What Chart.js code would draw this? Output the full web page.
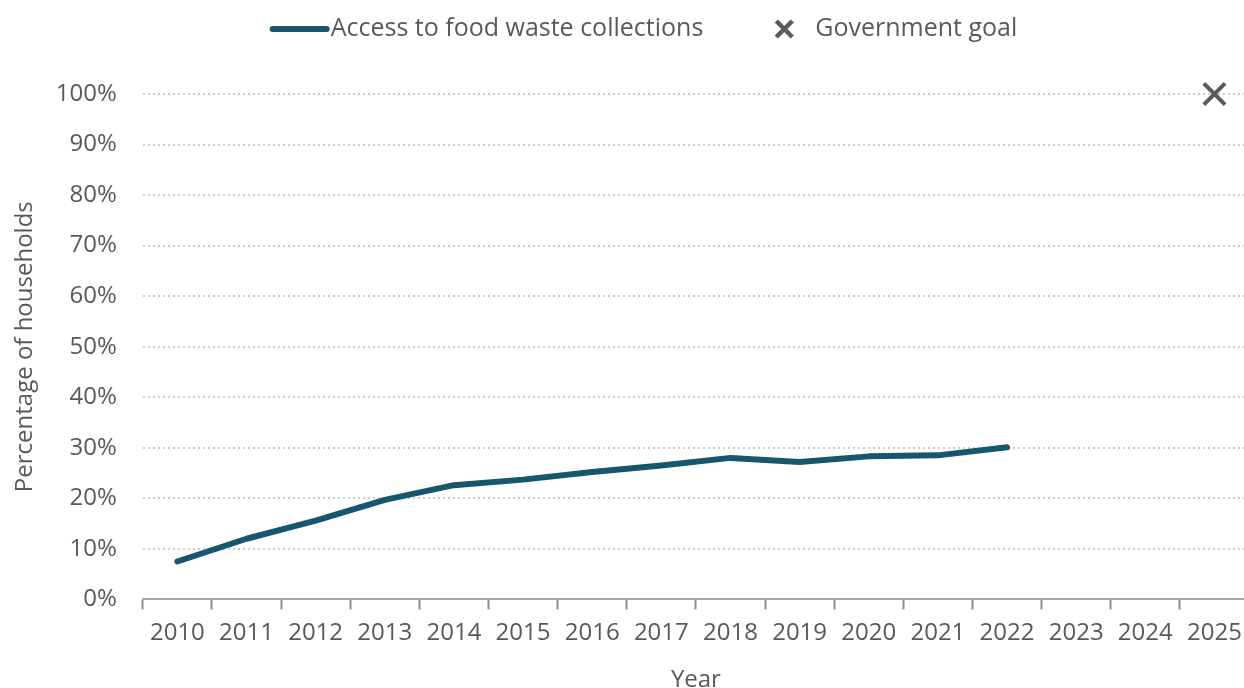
<!DOCTYPE html>
<html>
<head>
<meta charset="utf-8">
<script src="https://cdn.jsdelivr.net/npm/chart.js@4.4.1/dist/chart.umd.min.js"></script>
<style>
  html, body { margin: 0; padding: 0; background: #fff; overflow: hidden; }
  canvas { display: block; }
</style>
</head>
<body>
<canvas id="chart" width="1268" height="695"></canvas>
<script>
// chart data
const years = ['2010', '2011', '2012', '2013', '2014', '2015', '2016', '2017',
               '2018', '2019', '2020', '2021', '2022', '2023', '2024', '2025'];
const accessValues = [7.5, 12.0, 15.6, 19.7, 22.6, 23.7, 25.2, 26.5,
                      28.0, 27.2, 28.3, 28.5, 30.1, null, null, null];
const goalValues = [null, null, null, null, null, null, null, null,
                    null, null, null, null, null, null, null, 100];
const seriesNames = ['Access to food waste collections', 'Government goal'];

const lineColor = '#17566f';
const goalColor = '#5a5a5a';
const textColor = '#595959';
const fontFamily = '"Open Sans", "DejaVu Sans", sans-serif';

// simple top legend drawn on the canvas
const topLegend = {
  id: 'topLegend',
  afterDraw(chart) {
    const ctx = chart.ctx;
    ctx.save();
    ctx.font = '25px ' + fontFamily;
    ctx.fillStyle = textColor;
    ctx.textBaseline = 'middle';
    const y = 29;
    const lineW = 54, gap1 = 4, gap2 = 70, crossW = 30;
    const w1 = ctx.measureText(seriesNames[0]).width;
    const w2 = ctx.measureText(seriesNames[1]).width;
    const total = lineW + gap1 + w1 + gap2 + crossW + 12 + w2;
    let x = 645 - total / 2;

    ctx.strokeStyle = lineColor;
    ctx.lineWidth = 6;
    ctx.lineCap = 'round';
    ctx.beginPath();
    ctx.moveTo(x, y);
    ctx.lineTo(x + lineW, y);
    ctx.stroke();
    x += lineW + gap1;
    ctx.fillText(seriesNames[0], x, y);
    x += w1 + gap2;

    const cx = x + crossW / 2 - 4, r = 8;
    ctx.strokeStyle = goalColor;
    ctx.lineWidth = 4.5;
    ctx.lineCap = 'butt';
    ctx.beginPath();
    ctx.moveTo(cx - r, y - r); ctx.lineTo(cx + r, y + r);
    ctx.moveTo(cx + r, y - r); ctx.lineTo(cx - r, y + r);
    ctx.stroke();
    x += crossW + 12;
    ctx.fillText(seriesNames[1], x, y);
    ctx.restore();
  }
};

new Chart(document.getElementById('chart'), {
  type: 'line',
  data: {
    labels: years,
    datasets: [{
      label: seriesNames[0],
      data: accessValues,
      borderColor: lineColor,
      borderWidth: 6,
      borderCapStyle: 'round',
      borderJoinStyle: 'round',
      pointRadius: 0,
      tension: 0,
      spanGaps: false
    }, {
      label: seriesNames[1],
      data: goalValues,
      showLine: false,
      clip: false,
      pointStyle: 'crossRot',
      pointRadius: 15,
      pointBorderWidth: 4,
      pointBorderColor: goalColor,
      pointBackgroundColor: goalColor
    }]
  },
  options: {
    responsive: false,
    animation: false,
    layout: { padding: { top: 94, right: 1, left: 11, bottom: 0 } },
    plugins: {
      legend: { display: false },
      tooltip: { enabled: false }
    },
    scales: {
      x: {
        offset: true,
        grid: {
          offset: true,
          drawOnChartArea: false,
          drawTicks: true,
          tickLength: 10,
          tickWidth: 2,
          tickColor: '#8c8c8c'
        },
        border: { display: true, color: '#a6a6a6', width: 2 },
        ticks: {
          color: textColor,
          font: { family: fontFamily, size: 24 },
          padding: 9,
          maxRotation: 0,
          autoSkip: false
        },
        title: {
          display: true,
          text: 'Year',
          color: textColor,
          font: { family: fontFamily, size: 24 },
          padding: { top: 10, bottom: 0 }
        }
      },
      y: {
        min: 0,
        max: 100,
        ticks: {
          stepSize: 10,
          color: textColor,
          font: { family: fontFamily, size: 24 },
          padding: 26,
          callback: v => v + '%'
        },
        grid: {
          drawTicks: false,
          color: '#cccccc',
          lineWidth: 2
        },
        border: { display: false, dash: [2, 3] },
        title: {
          display: true,
          text: 'Percentage of households',
          color: textColor,
          font: { family: fontFamily, size: 24 },
          padding: { top: 0, bottom: -10 }
        }
      }
    }
  },
  plugins: [topLegend]
});
</script>
</body>
</html>
